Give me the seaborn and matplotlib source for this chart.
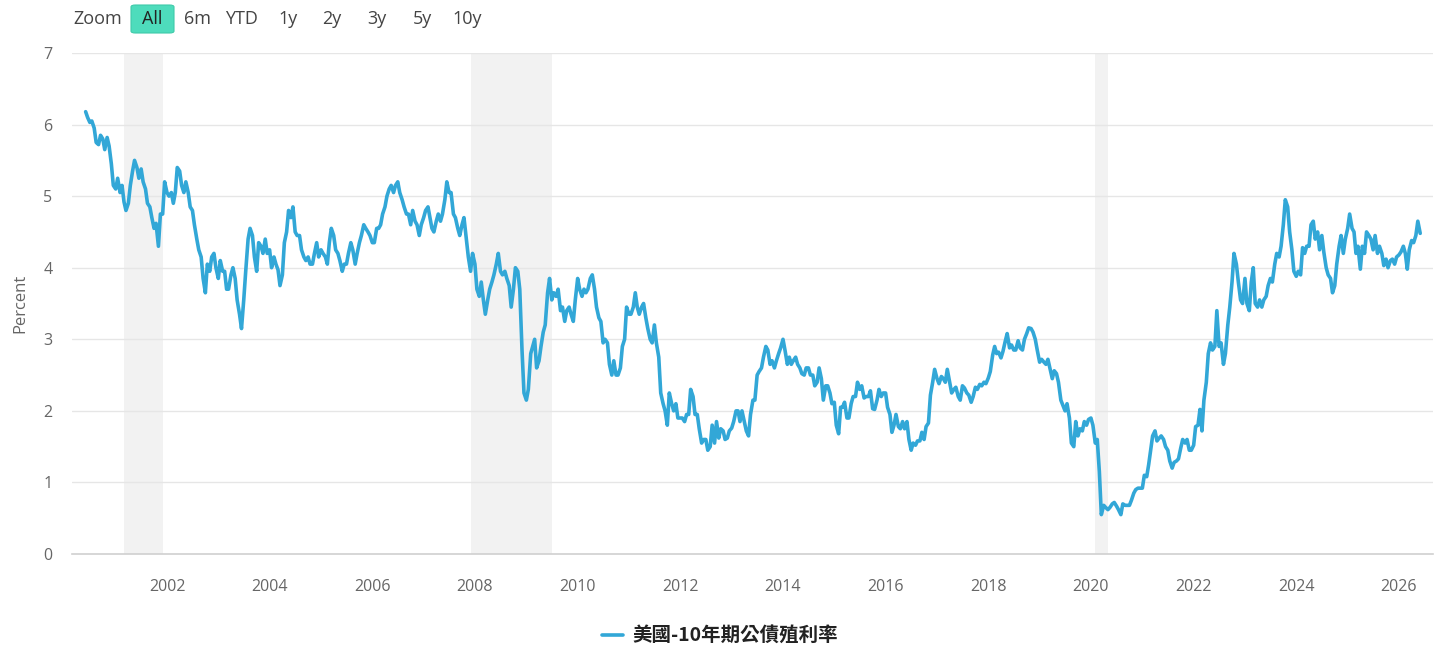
import numpy as np
import pandas as pd

import matplotlib as mpl
mpl.use('Agg')
import matplotlib.pyplot as plt
from matplotlib.patches import FancyBboxPatch
import seaborn as sns

# semi-monthly readings (1st and 15th of each month), percent
y2000 = [6.18, 6.10, 6.03, 6.05, 5.95, 5.75, 5.72, 5.85, 5.80, 5.65, 5.82, 5.70, 5.45, 5.15]
y2001 = [5.10, 5.25, 5.05, 5.15, 4.92, 4.80, 4.90, 5.15, 5.35, 5.50, 5.40, 5.25,
         5.38, 5.20, 5.10, 4.90, 4.85, 4.70, 4.55, 4.62, 4.30, 4.75, 4.75, 5.20]
y2002 = [5.05, 5.00, 5.05, 4.90, 5.05, 5.40, 5.35, 5.15, 5.05, 5.20, 5.05, 4.85,
         4.80, 4.60, 4.40, 4.25, 4.15, 3.85, 3.65, 4.05, 3.95, 4.15, 4.20, 4.00]
y2003 = [3.85, 4.10, 3.95, 3.95, 3.70, 3.70, 3.90, 4.00, 3.85, 3.55, 3.35, 3.15,
         3.55, 3.95, 4.40, 4.55, 4.45, 4.15, 3.95, 4.35, 4.30, 4.20, 4.40, 4.20]
y2004 = [4.25, 4.00, 4.15, 4.05, 3.97, 3.75, 3.90, 4.35, 4.50, 4.80, 4.70, 4.85,
         4.50, 4.45, 4.45, 4.25, 4.15, 4.10, 4.15, 4.05, 4.05, 4.20, 4.35, 4.15]
y2005 = [4.25, 4.20, 4.15, 4.05, 4.35, 4.55, 4.45, 4.25, 4.20, 4.10, 3.95, 4.05,
         4.05, 4.20, 4.35, 4.25, 4.05, 4.20, 4.35, 4.45, 4.60, 4.55, 4.50, 4.45]
y2006 = [4.35, 4.35, 4.55, 4.55, 4.60, 4.75, 4.85, 5.00, 5.10, 5.15, 5.05, 5.15,
         5.20, 5.05, 4.95, 4.85, 4.75, 4.75, 4.60, 4.80, 4.65, 4.60, 4.45, 4.60]
y2007 = [4.70, 4.80, 4.85, 4.70, 4.55, 4.50, 4.65, 4.75, 4.65, 4.75, 4.95, 5.20,
         5.05, 5.05, 4.75, 4.70, 4.55, 4.45, 4.60, 4.70, 4.40, 4.15, 3.95, 4.20]
y2008 = [4.05, 3.70, 3.60, 3.80, 3.55, 3.35, 3.55, 3.70, 3.80, 3.90, 4.05, 4.20,
         3.95, 3.90, 3.95, 3.85, 3.75, 3.45, 3.70, 4.00, 3.95, 3.70, 2.85, 2.25]
y2009 = [2.15, 2.30, 2.80, 2.90, 3.00, 2.60, 2.70, 2.90, 3.10, 3.20, 3.65, 3.85,
         3.55, 3.65, 3.60, 3.70, 3.40, 3.45, 3.25, 3.40, 3.45, 3.35, 3.25, 3.55]
y2010 = [3.85, 3.70, 3.60, 3.70, 3.65, 3.70, 3.85, 3.90, 3.70, 3.45, 3.30, 3.25,
         2.95, 3.00, 2.95, 2.65, 2.50, 2.70, 2.50, 2.50, 2.60, 2.90, 3.00, 3.45]
y2011 = [3.35, 3.35, 3.45, 3.65, 3.45, 3.35, 3.45, 3.50, 3.30, 3.15, 3.00, 2.95,
         3.20, 2.95, 2.75, 2.25, 2.10, 2.00, 1.80, 2.25, 2.10, 2.00, 2.10, 1.90]
y2012 = [1.90, 1.90, 1.85, 1.95, 1.95, 2.30, 2.20, 1.95, 1.95, 1.75, 1.55, 1.60,
         1.60, 1.45, 1.50, 1.80, 1.55, 1.85, 1.62, 1.75, 1.72, 1.60, 1.62, 1.72]
y2013 = [1.76, 1.85, 2.00, 2.00, 1.85, 2.00, 1.85, 1.72, 1.65, 1.95, 2.15, 2.15,
         2.50, 2.55, 2.60, 2.75, 2.90, 2.85, 2.65, 2.70, 2.60, 2.70, 2.80, 2.88]
y2014 = [3.00, 2.85, 2.65, 2.75, 2.65, 2.70, 2.75, 2.65, 2.60, 2.52, 2.50, 2.60,
         2.60, 2.50, 2.50, 2.35, 2.40, 2.60, 2.45, 2.15, 2.35, 2.35, 2.25, 2.10]
y2015 = [2.12, 1.80, 1.68, 2.05, 2.05, 2.12, 1.90, 1.90, 2.10, 2.20, 2.20, 2.40,
         2.30, 2.35, 2.18, 2.20, 2.20, 2.28, 2.03, 2.02, 2.15, 2.30, 2.20, 2.25]
y2016 = [2.25, 2.05, 1.95, 1.70, 1.80, 1.95, 1.78, 1.75, 1.85, 1.75, 1.85, 1.60,
         1.45, 1.55, 1.52, 1.58, 1.58, 1.70, 1.60, 1.78, 1.83, 2.22, 2.40, 2.58]
y2017 = [2.45, 2.38, 2.48, 2.45, 2.40, 2.58, 2.40, 2.25, 2.30, 2.33, 2.20, 2.15,
         2.35, 2.32, 2.25, 2.22, 2.12, 2.20, 2.33, 2.30, 2.37, 2.35, 2.40, 2.38]
y2018 = [2.46, 2.55, 2.78, 2.90, 2.80, 2.82, 2.74, 2.83, 2.97, 3.08, 2.88, 2.92,
         2.85, 2.85, 2.98, 2.88, 2.85, 3.00, 3.08, 3.16, 3.15, 3.10, 3.00, 2.85]
y2019 = [2.68, 2.72, 2.68, 2.65, 2.72, 2.60, 2.45, 2.56, 2.52, 2.40, 2.15, 2.08,
         2.00, 2.10, 1.90, 1.55, 1.50, 1.85, 1.65, 1.75, 1.72, 1.85, 1.80, 1.88]
y2020 = [1.90, 1.80, 1.55, 1.60, 1.15, 0.55, 0.68, 0.65, 0.62, 0.65, 0.70, 0.72,
         0.67, 0.62, 0.55, 0.70, 0.68, 0.68, 0.68, 0.75, 0.85, 0.90, 0.92, 0.92]
y2021 = [0.92, 1.10, 1.08, 1.25, 1.45, 1.65, 1.72, 1.58, 1.62, 1.65, 1.60, 1.50,
         1.45, 1.30, 1.20, 1.28, 1.30, 1.33, 1.48, 1.60, 1.55, 1.60, 1.45, 1.45]
y2022 = [1.52, 1.78, 1.80, 2.02, 1.72, 2.15, 2.40, 2.80, 2.95, 2.85, 2.90, 3.40,
         2.90, 2.95, 2.65, 2.80, 3.20, 3.45, 3.80, 4.20, 4.05, 3.80, 3.55, 3.50]
y2023 = [3.85, 3.50, 3.40, 3.80, 4.00, 3.50, 3.45, 3.55, 3.45, 3.55, 3.60, 3.75,
         3.85, 3.80, 4.05, 4.20, 4.15, 4.30, 4.60, 4.95, 4.85, 4.50, 4.25, 3.95]
y2024 = [3.88, 3.95, 3.90, 4.28, 4.20, 4.30, 4.30, 4.60, 4.65, 4.40, 4.50, 4.25,
         4.45, 4.22, 4.00, 3.90, 3.85, 3.65, 3.75, 4.05, 4.30, 4.45, 4.20, 4.40]
y2025 = [4.55, 4.75, 4.55, 4.50, 4.20, 4.30, 3.98, 4.30, 4.20, 4.50, 4.45, 4.40,
         4.25, 4.45, 4.20, 4.30, 4.20, 4.03, 4.12, 4.00, 4.10, 4.12, 4.05, 4.15]
y2026 = [4.18, 4.22, 4.30, 4.20, 3.98, 4.25, 4.38, 4.35, 4.45, 4.65, 4.48]

recessions = [('2001-03-01', '2001-11-30'),
              ('2007-12-01', '2009-06-30'),
              ('2020-02-01', '2020-04-30')]

zoom_labels = ['6m', 'YTD', '1y', '2y', '3y', '5y', '10y']
series_name = '美國-10年期公債殖利率'

yields = (y2000 + y2001 + y2002 + y2003 + y2004 + y2005 + y2006 + y2007 + y2008
          + y2009 + y2010 + y2011 + y2012 + y2013 + y2014 + y2015 + y2016 + y2017
          + y2018 + y2019 + y2020 + y2021 + y2022 + y2023 + y2024 + y2025 + y2026)
dates = pd.date_range('2000-06-01', periods=len(yields), freq='SMS')
df = pd.DataFrame({'date': dates, 'value': yields})

sns.set_style('white')
plt.rcParams['font.family'] = ['Open Sans', 'Noto Sans CJK TC', 'DejaVu Sans']

line_color = '#32a7d7'
text_color = '#666666'

fig = plt.figure(figsize=(14.56, 6.58), dpi=100)
ax = fig.add_axes([72 / 1456, 1 - 554 / 658, (1433 - 72) / 1456, (554 - 53) / 658])

for start, end in recessions:
    ax.axvspan(pd.Timestamp(start), pd.Timestamp(end), color='#f2f2f2', lw=0, zorder=0)

sns.lineplot(data=df, x='date', y='value', ax=ax, color=line_color, lw=2.6, zorder=3)

ax.set_xlim(pd.Timestamp('2000-02-25'), pd.Timestamp('2026-08-31'))
ax.set_ylim(0, 7)
ax.set_yticks(range(0, 8))
ax.set_xticks([pd.Timestamp(f'{y}-01-01') for y in range(2002, 2027, 2)])
ax.set_xticklabels([str(y) for y in range(2002, 2027, 2)])
ax.grid(axis='y', color='#e6e6e6', lw=1)
ax.grid(axis='x', visible=False)
for side in ['top', 'right', 'left']:
    ax.spines[side].set_visible(False)
ax.spines['bottom'].set_color('#d0d0d0')
ax.spines['bottom'].set_linewidth(1.2)
ax.tick_params(axis='x', length=10, width=1, color='#d0d0d0', colors=text_color,
               labelsize=11.5, pad=8)
ax.tick_params(axis='y', length=0, colors=text_color, labelsize=11.5, pad=14)
ax.set_xlabel('')
ax.set_ylabel('Percent', color=text_color, fontsize=12, labelpad=10)
ax.yaxis.set_label_coords(-0.032, 0.5)
if ax.get_legend():
    ax.get_legend().remove()

# range selector on top
fig.text(73 / 1456, 1 - 19 / 658, 'Zoom', fontsize=13, color='#444444', va='center')
btn = FancyBboxPatch((131 / 1456, 1 - 33 / 658), 43 / 1456, 28 / 658,
                     boxstyle='round,pad=0,rounding_size=0.003', transform=fig.transFigure,
                     facecolor='#4edcbc', edgecolor='#3fcaa9', lw=0.8)
fig.patches.append(btn)
fig.text(152.5 / 1456, 1 - 19 / 658, 'All', fontsize=13, color='#222222', va='center', ha='center')
xpos = [198, 241, 288, 332, 377, 422, 467]
for lab, xp in zip(zoom_labels, xpos):
    fig.text(xp / 1456, 1 - 19 / 658, lab, fontsize=13, color='#444444', va='center', ha='center')

# legend at bottom
fig.add_artist(plt.Line2D([602 / 1456, 623 / 1456], [1 - 635 / 658] * 2,
                          transform=fig.transFigure, color=line_color, lw=2.6))
fig.text(632 / 1456, 1 - 635 / 658, series_name, fontsize=14, fontweight='bold',
         color='#222222', va='center', family=['Noto Sans CJK TC', 'DejaVu Sans'])

fig.savefig('out.png', dpi=100)
